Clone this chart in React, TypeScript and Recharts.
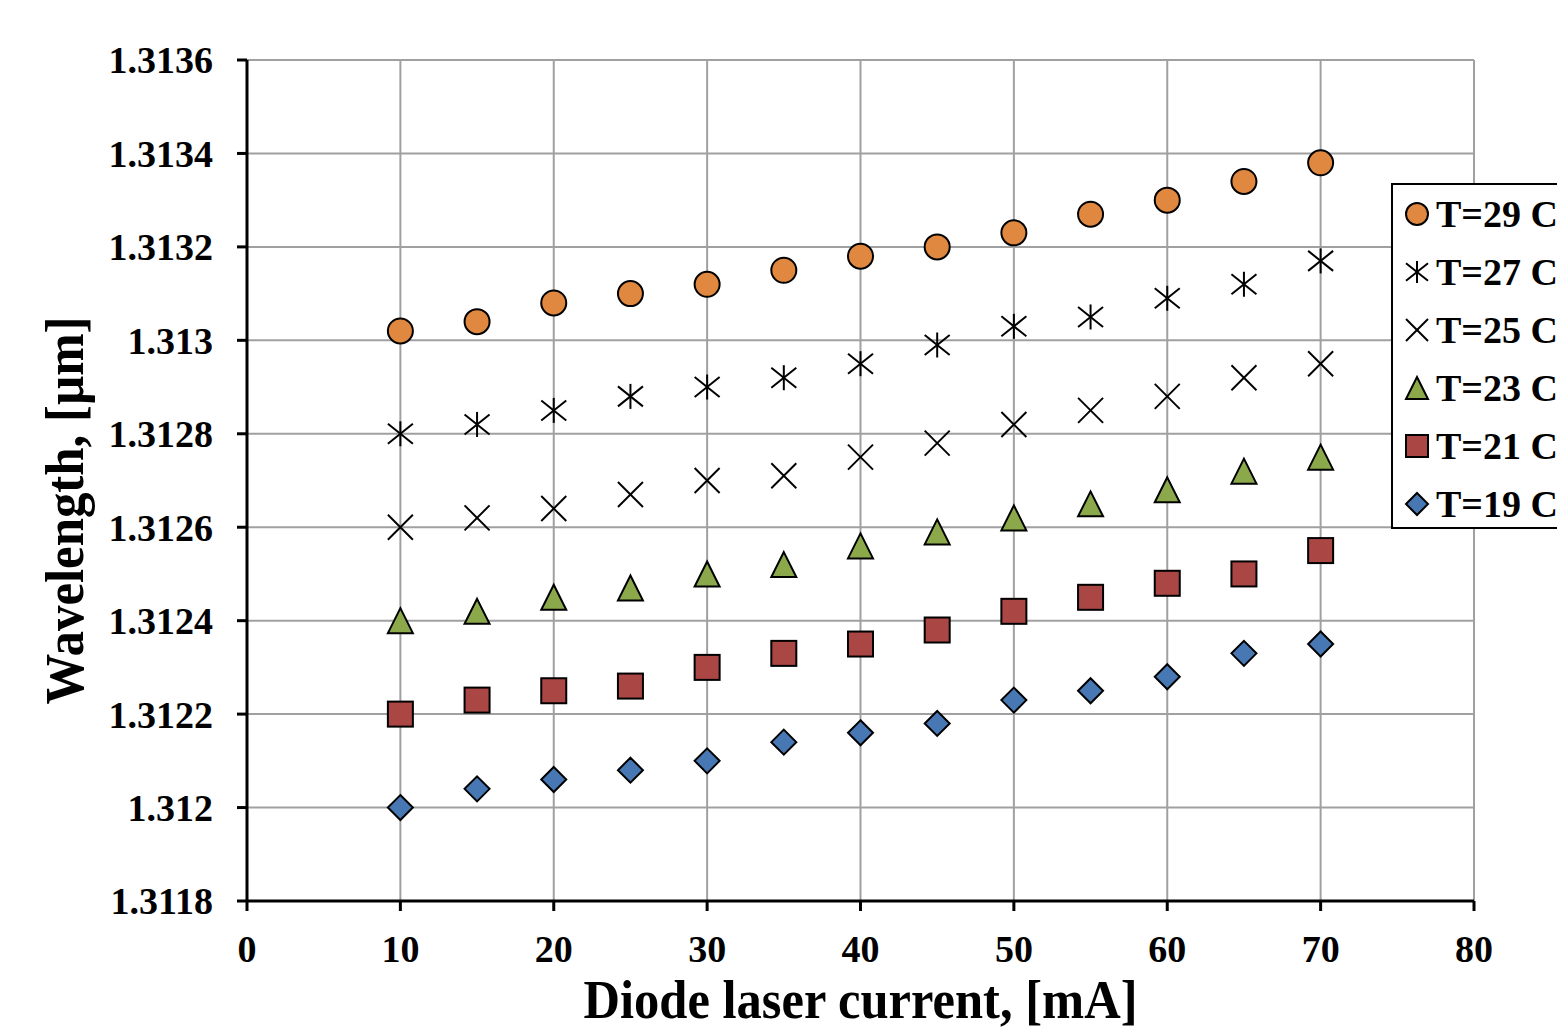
import React from 'react';
import {
  ScatterChart,
  Scatter,
  XAxis,
  YAxis,
  CartesianGrid,
  Legend,
} from 'recharts';

// diode laser current, mA
const current = [10, 15, 20, 25, 30, 35, 40, 45, 50, 55, 60, 65, 70];

// wavelength, um, per temperature
const t29 = [1.31302, 1.31304, 1.31308, 1.3131, 1.31312, 1.31315, 1.31318, 1.3132, 1.31323, 1.31327, 1.3133, 1.31334, 1.31338];
const t27 = [1.3128, 1.31282, 1.31285, 1.31288, 1.3129, 1.31292, 1.31295, 1.31299, 1.31303, 1.31305, 1.31309, 1.31312, 1.31317];
const t25 = [1.3126, 1.31262, 1.31264, 1.31267, 1.3127, 1.31271, 1.31275, 1.31278, 1.31282, 1.31285, 1.31288, 1.31292, 1.31295];
const t23 = [1.3124, 1.31242, 1.31245, 1.31247, 1.3125, 1.31252, 1.31256, 1.31259, 1.31262, 1.31265, 1.31268, 1.31272, 1.31275];
const t21 = [1.3122, 1.31223, 1.31225, 1.31226, 1.3123, 1.31233, 1.31235, 1.31238, 1.31242, 1.31245, 1.31248, 1.3125, 1.31255];
const t19 = [1.312, 1.31204, 1.31206, 1.31208, 1.3121, 1.31214, 1.31216, 1.31218, 1.31223, 1.31225, 1.31228, 1.31233, 1.31235];

const xTicks = [0, 10, 20, 30, 40, 50, 60, 70, 80];
const yTicks = [1.3118, 1.312, 1.3122, 1.3124, 1.3126, 1.3128, 1.313, 1.3132, 1.3134, 1.3136];

const FONT = '"Liberation Serif", "Times New Roman", serif';

type Kind = 'circle' | 'star' | 'x' | 'triangle' | 'square' | 'diamond';

const series: { name: string; values: number[]; kind: Kind; color: string }[] = [
  { name: 'T=29 C', values: t29, kind: 'circle', color: '#E0883F' },
  { name: 'T=27 C', values: t27, kind: 'star', color: '#000000' },
  { name: 'T=25 C', values: t25, kind: 'x', color: '#000000' },
  { name: 'T=23 C', values: t23, kind: 'triangle', color: '#8BA94A' },
  { name: 'T=21 C', values: t21, kind: 'square', color: '#AA4643' },
  { name: 'T=19 C', values: t19, kind: 'diamond', color: '#4878B4' },
];

const Marker = ({ kind, cx, cy, color, size }: { kind: Kind; cx: number; cy: number; color: string; size: number }) => {
  const h = size / 2;
  const stroke = { stroke: '#000', strokeWidth: 2 };
  switch (kind) {
    case 'circle':
      return <circle cx={cx} cy={cy} r={h} fill={color} {...stroke} />;
    case 'square':
      return <rect x={cx - h} y={cy - h} width={size} height={size} fill={color} {...stroke} />;
    case 'diamond':
      return <polygon points={`${cx},${cy - h} ${cx + h},${cy} ${cx},${cy + h} ${cx - h},${cy}`} fill={color} {...stroke} />;
    case 'triangle':
      return <polygon points={`${cx},${cy - h} ${cx + h},${cy + h} ${cx - h},${cy + h}`} fill={color} {...stroke} />;
    case 'star':
      return (
        <g {...stroke}>
          <line x1={cx} y1={cy - h} x2={cx} y2={cy + h} />
          <line x1={cx - h} y1={cy - h * 0.8} x2={cx + h} y2={cy + h * 0.8} />
          <line x1={cx - h} y1={cy + h * 0.8} x2={cx + h} y2={cy - h * 0.8} />
        </g>
      );
    case 'x':
    default:
      return (
        <g {...stroke}>
          <line x1={cx - h} y1={cy - h} x2={cx + h} y2={cy + h} />
          <line x1={cx - h} y1={cy + h} x2={cx + h} y2={cy - h} />
        </g>
      );
  }
};

const renderLegend = () => (
  <svg width={166} height={346} style={{ display: 'block' }}>
    {series.map((s, i) => {
      const cy = 29 + i * 58;
      return (
        <g key={s.name}>
          <Marker kind={s.kind} cx={24} cy={cy} color={s.color} size={22} />
          <text x={43} y={cy + 13} fontFamily={FONT} fontWeight="bold" fontSize={38} fill="#000">
            {s.name}
          </text>
        </g>
      );
    })}
  </svg>
);

const fmtY = (v: number) => parseFloat(v.toFixed(4)).toString();

const App: React.FC = () => {
  const tickStyle = { fill: '#000', fontSize: 38, fontWeight: 'bold', fontFamily: FONT };
  const axisLine = { stroke: '#000', strokeWidth: 3 };

  return (
    <div style={{ position: 'absolute', left: 0, top: 0, background: '#fff' }}>
      <ScatterChart width={1557} height={1036} margin={{ top: 60, right: 83, bottom: 0, left: 0 }}>
        <CartesianGrid stroke="#A0A0A0" strokeWidth={2} />
        <XAxis
          type="number"
          dataKey="x"
          domain={[0, 80]}
          ticks={xTicks}
          interval={0}
          height={135}
          tick={tickStyle}
          tickSize={10}
          tickMargin={24}
          axisLine={axisLine}
          tickLine={axisLine}
          label={{
            content: (props: any) => {
              const vb = props.viewBox || { x: 247, y: 901, width: 1227 };
              return (
                <text
                  x={vb.x + vb.width / 2}
                  y={vb.y + 117}
                  textAnchor="middle"
                  fontFamily={FONT}
                  fontWeight="bold"
                  fontSize={55}
                  textLength={554}
                  lengthAdjust="spacingAndGlyphs"
                  fill="#000"
                >
                  Diode laser current, [mA]
                </text>
              );
            },
          }}
        />
        <YAxis
          type="number"
          dataKey="y"
          domain={[1.3118, 1.3136]}
          ticks={yTicks}
          interval={0}
          width={247}
          tick={tickStyle}
          tickFormatter={fmtY}
          tickSize={10}
          tickMargin={24}
          axisLine={axisLine}
          tickLine={axisLine}
          label={{
            content: (props: any) => {
              const vb = props.viewBox || { x: 0, y: 60, height: 841 };
              const cy = vb.y + vb.height / 2 + 30;
              return (
                <text
                  x={83}
                  y={cy}
                  transform={`rotate(-90, 83, ${cy})`}
                  textAnchor="middle"
                  fontFamily={FONT}
                  fontWeight="bold"
                  fontSize={55}
                  textLength={388}
                  lengthAdjust="spacingAndGlyphs"
                  fill="#000"
                >
                  Wavelength, [µm]
                </text>
              );
            },
          }}
        />
        <Legend
          layout="horizontal"
          verticalAlign="middle"
          align="center"
          content={renderLegend}
          wrapperStyle={{
            position: 'absolute',
            left: 1391,
            top: 183,
            width: 166,
            height: 346,
            border: '2px solid #000',
            borderRight: 'none',
            background: '#fff',
            boxSizing: 'border-box',
          }}
        />
        {series.map((s) => (
          <Scatter
            key={s.name}
            name={s.name}
            data={current.map((x, i) => ({ x, y: s.values[i] }))}
            isAnimationActive={false}
            shape={(p: any) => <Marker kind={s.kind} cx={p.cx} cy={p.cy} color={s.color} size={25} />}
          />
        ))}
      </ScatterChart>
    </div>
  );
};

export default App;
